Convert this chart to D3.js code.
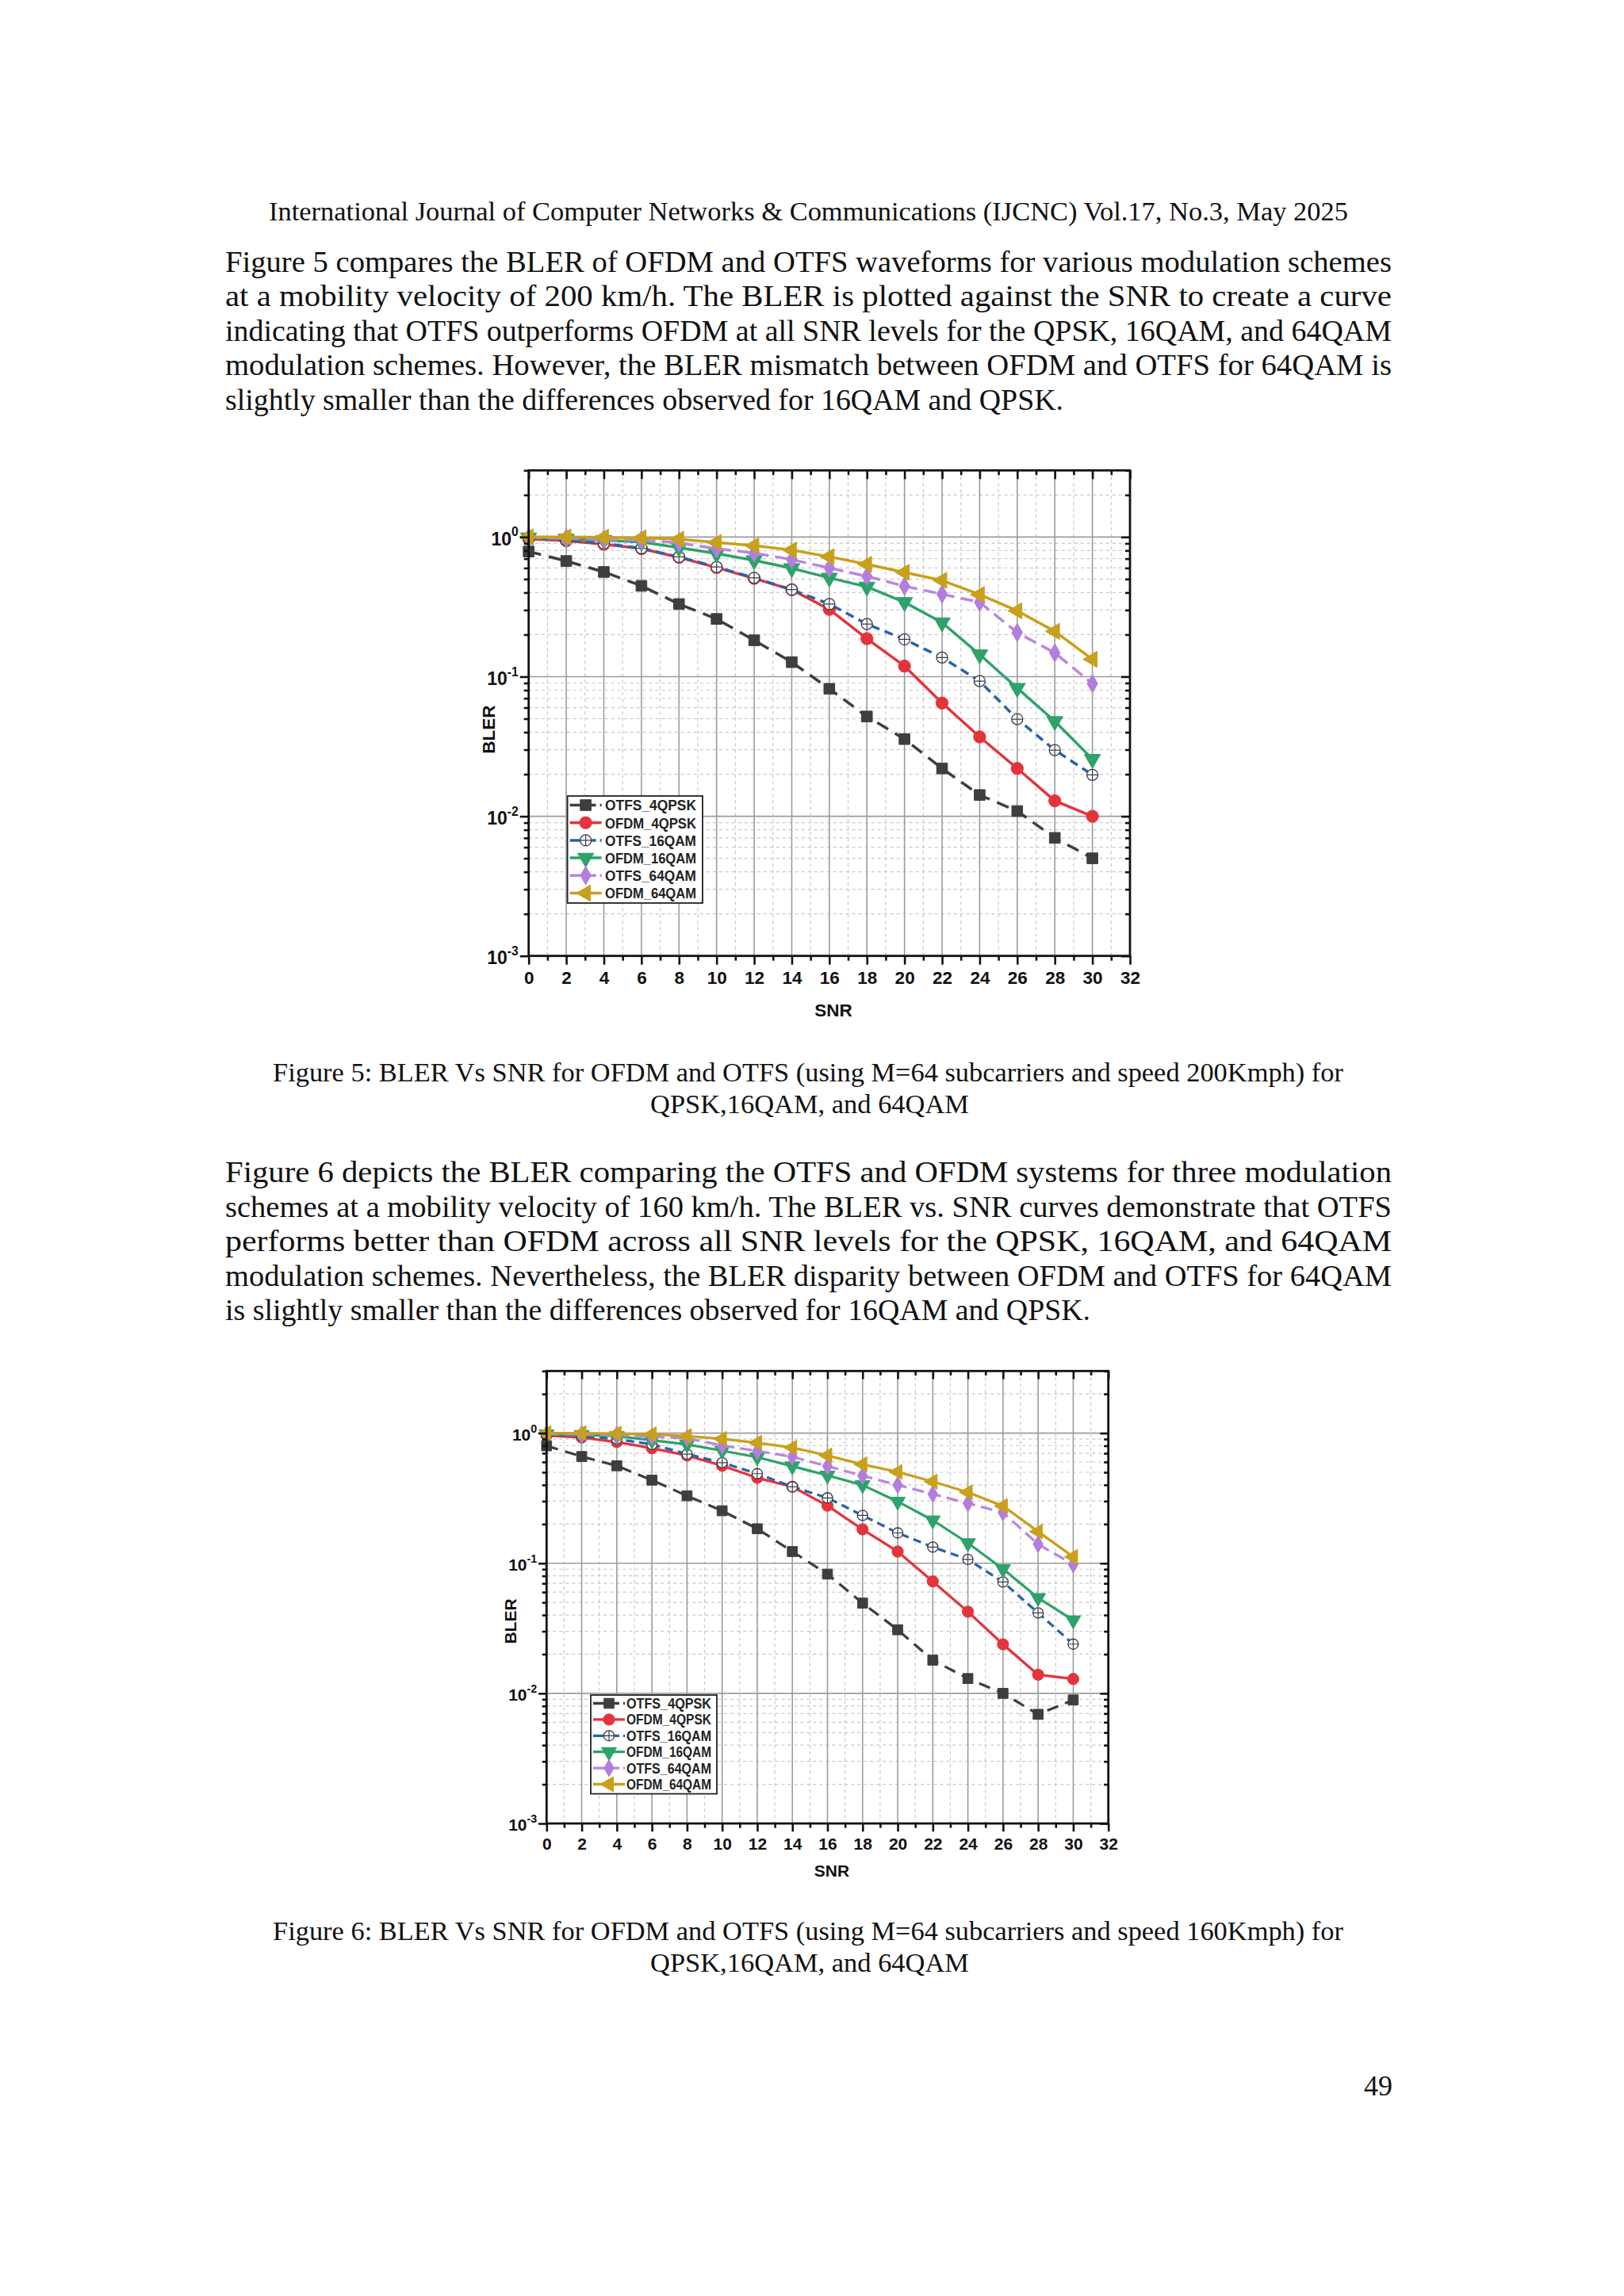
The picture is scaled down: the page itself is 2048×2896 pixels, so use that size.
<!DOCTYPE html>
<html>
<head>
<meta charset="utf-8">
<script src="https://cdn.jsdelivr.net/npm/d3@7"></script>
<style>
  body { margin: 0; background: #fff; }
</style>
</head>
<body>
<div id="page"></div>
<script>
// ---- data ----
const snr = [0, 2, 4, 6, 8, 10, 12, 14, 16, 18, 20, 22, 24, 26, 28, 30];
const seriesNames = ["OTFS_4QPSK", "OFDM_4QPSK", "OTFS_16QAM", "OFDM_16QAM", "OTFS_64QAM", "OFDM_64QAM"];
const xTicks = [0, 2, 4, 6, 8, 10, 12, 14, 16, 18, 20, 22, 24, 26, 28, 30, 32];
const yTicks = [1, 0.1, 0.01, 0.001];
const yTickExp = ["0", "-1", "-2", "-3"];

// Figure 5 (200 km/h)
const fig5_otfs_qpsk = [0.787, 0.673, 0.562, 0.447, 0.331, 0.259, 0.182, 0.127, 0.0818, 0.0518, 0.0357, 0.0220, 0.0142, 0.0109, 0.0070, 0.0050];
const fig5_ofdm_qpsk = [0.97, 0.94, 0.887, 0.825, 0.715, 0.604, 0.505, 0.419, 0.303, 0.187, 0.119, 0.0647, 0.0370, 0.0220, 0.0129, 0.0100];
const fig5_otfs_16qam = [0.98, 0.95, 0.90, 0.83, 0.72, 0.61, 0.51, 0.42, 0.331, 0.238, 0.185, 0.137, 0.0929, 0.0496, 0.0298, 0.0198];
const fig5_ofdm_16qam = [0.99, 0.97, 0.95, 0.92, 0.84, 0.76, 0.68, 0.597, 0.51, 0.44, 0.341, 0.244, 0.144, 0.0828, 0.0479, 0.0257];
const fig5_otfs_64qam = [0.99, 0.98, 0.965, 0.95, 0.91, 0.825, 0.768, 0.689, 0.600, 0.523, 0.445, 0.390, 0.341, 0.207, 0.148, 0.0891];
const fig5_ofdm_64qam = [1.0, 1.0, 0.995, 0.985, 0.965, 0.914, 0.866, 0.806, 0.723, 0.637, 0.558, 0.489, 0.387, 0.296, 0.211, 0.133];

// Figure 6 (160 km/h)
const fig6_otfs_qpsk = [0.798, 0.661, 0.561, 0.435, 0.330, 0.253, 0.184, 0.123, 0.0825, 0.0494, 0.0308, 0.0180, 0.0130, 0.0100, 0.0069, 0.0089];
const fig6_ofdm_qpsk = [0.958, 0.924, 0.854, 0.765, 0.673, 0.561, 0.453, 0.387, 0.277, 0.182, 0.123, 0.0725, 0.0424, 0.0238, 0.0139, 0.0129];
const fig6_otfs_16qam = [0.97, 0.95, 0.90, 0.82, 0.69, 0.593, 0.488, 0.387, 0.318, 0.233, 0.171, 0.133, 0.107, 0.0718, 0.0415, 0.0239];
const fig6_ofdm_16qam = [0.98, 0.97, 0.95, 0.88, 0.818, 0.733, 0.653, 0.557, 0.473, 0.399, 0.298, 0.214, 0.143, 0.0903, 0.0542, 0.0365];
const fig6_otfs_64qam = [0.99, 0.98, 0.97, 0.94, 0.913, 0.803, 0.729, 0.657, 0.557, 0.470, 0.399, 0.340, 0.289, 0.245, 0.140, 0.098];
const fig6_ofdm_64qam = [1.0, 1.0, 0.99, 0.98, 0.947, 0.902, 0.843, 0.774, 0.673, 0.575, 0.503, 0.424, 0.351, 0.275, 0.175, 0.112];

// ---- page text ----
const headerText = "International Journal of Computer Networks & Communications (IJCNC) Vol.17, No.3, May 2025";
const para1 = [
  "Figure 5 compares the BLER of OFDM and OTFS waveforms for various modulation schemes",
  "at a mobility velocity of 200 km/h. The BLER is plotted against the SNR to create a curve",
  "indicating that OTFS outperforms OFDM at all SNR levels for the QPSK, 16QAM, and 64QAM",
  "modulation schemes. However, the BLER mismatch between OFDM and OTFS for 64QAM is",
  "slightly smaller than the differences observed for 16QAM and QPSK."
];
const caption5 = [
  "Figure 5: BLER Vs SNR for OFDM and OTFS (using M=64 subcarriers and speed 200Kmph) for",
  "QPSK,16QAM, and 64QAM"
];
const para2 = [
  "Figure 6 depicts the BLER comparing the OTFS and OFDM systems for three modulation",
  "schemes at a mobility velocity of 160 km/h. The BLER vs. SNR curves demonstrate that OTFS",
  "performs better than OFDM across all SNR levels for the QPSK, 16QAM, and 64QAM",
  "modulation schemes. Nevertheless, the BLER disparity between OFDM and OTFS for 64QAM",
  "is slightly smaller than the differences observed for 16QAM and QPSK."
];
const caption6 = [
  "Figure 6: BLER Vs SNR for OFDM and OTFS (using M=64 subcarriers and speed 160Kmph) for",
  "QPSK,16QAM, and 64QAM"
];
const pageNumber = "49";

const W = 2048, H = 2896;
const serif = "'Liberation Serif','Times New Roman',Times,serif";
const sans = "'Liberation Sans',Arial,Helvetica,sans-serif";

const svg = d3.select("#page").append("svg")
  .attr("width", W).attr("height", H)
  .style("display", "block");
svg.append("rect").attr("width", W).attr("height", H).attr("fill", "#fff");

// line of text stretched to the width it has in the scan
function textLine(str, x, y, len, size) {
  return svg.append("text")
    .attr("x", x).attr("y", y)
    .attr("font-family", serif)
    .attr("font-size", size || 37)
    .attr("textLength", len)
    .attr("lengthAdjust", "spacingAndGlyphs")
    .attr("fill", "#111")
    .text(str);
}

textLine(headerText, 339, 278, 1361, 34);

const bodyLeft = 284, bodyWidth = 1471;
para1.forEach((l, i) => textLine(l, bodyLeft, 343 + i * 43.4, i < 4 ? bodyWidth : 1057));
caption5.forEach((l, i) => textLine(l, i ? 820 : 344, 1364 + i * 39.5, i ? 402 : 1350, 34));
para2.forEach((l, i) => textLine(l, bodyLeft, 1491 + i * 43.5, i < 4 ? bodyWidth : 1091));
caption6.forEach((l, i) => textLine(l, i ? 820 : 344, 2447 + i * 40, i ? 402 : 1350, 34));
svg.append("text").attr("x", 1756).attr("y", 2643).attr("text-anchor", "end")
  .attr("font-family", serif).attr("font-size", 36).attr("fill", "#111").text(pageNumber);

// ---- series styles ----
const styles = {
  OTFS_4QPSK: { color: "#3e3e3e", dash: "16,10", sym: "square", fill: "#3e3e3e", stroke: "#3e3e3e" },
  OFDM_4QPSK: { color: "#e3343c", dash: null, sym: "circle", fill: "#e3343c", stroke: "#e3343c" },
  OTFS_16QAM: { color: "#2863ab", dash: "11,7", sym: "circleplus", fill: "#ffffff", stroke: "#3a3a4a" },
  OFDM_16QAM: { color: "#2ea26a", dash: null, sym: "tridown", fill: "#2ea26a", stroke: "#2ea26a" },
  OTFS_64QAM: { color: "#bb86e2", dash: "16,8", sym: "diamond", fill: "#b37ddd", stroke: "#b37ddd" },
  OFDM_64QAM: { color: "#c9a01c", dash: null, sym: "trileft", fill: "#c9a01c", stroke: "#c9a01c" }
};

function drawMarker(g, name, cx, cy, k) {
  const s = styles[name];
  const m = g.append("g").attr("transform", `translate(${cx},${cy})`);
  if (s.sym === "circleplus") {
    const r = 7 * k;
    m.append("circle").attr("r", r).attr("fill", s.fill).attr("stroke", s.stroke).attr("stroke-width", 1.3);
    m.append("path").attr("d", `M${-r},0H${r}M0,${-r}V${r}`).attr("stroke", s.stroke).attr("stroke-width", 1.2);
    return;
  }
  let type = d3.symbolSquare, area = 185, rot = 0;
  if (s.sym === "circle") { type = d3.symbolCircle; area = 185; }
  if (s.sym === "tridown") { type = d3.symbolTriangle; area = 180; rot = 180; }
  if (s.sym === "trileft") { type = d3.symbolTriangle; area = 180; rot = -90; }
  if (s.sym === "diamond") { type = d3.symbolDiamond; area = 155; }
  m.append("path")
    .attr("d", d3.symbol().type(type).size(area * k * k)())
    .attr("transform", `rotate(${rot})`)
    .attr("fill", s.fill).attr("stroke", s.stroke).attr("stroke-width", 1);
}

function drawChart(cfg, series) {
  const x = d3.scaleLinear().domain([0, 32]).range([cfg.x0, cfg.x1]);
  const y = d3.scaleLog().domain([0.001, 3]).range([cfg.yBot, cfg.yTop]);
  const g = svg.append("g");
  const k = cfg.k;

  // minor values
  const xMinor = d3.range(1, 32, 2);
  const yMinor = [];
  [0.001, 0.01, 0.1, 1].forEach(d => { for (let m = 2; m <= 9; m++) { if (d * m <= 3) yMinor.push(d * m); } });

  // grid
  const grid = g.append("g");
  grid.selectAll(".vmin").data(xMinor).join("line")
    .attr("x1", d => x(d)).attr("x2", d => x(d)).attr("y1", cfg.yTop).attr("y2", cfg.yBot)
    .attr("stroke", "#c8c8c8").attr("stroke-width", 1.2).attr("stroke-dasharray", "4,4");
  grid.selectAll(".hmin").data(yMinor).join("line")
    .attr("y1", d => y(d)).attr("y2", d => y(d)).attr("x1", cfg.x0).attr("x2", cfg.x1)
    .attr("stroke", "#c8c8c8").attr("stroke-width", 1.2).attr("stroke-dasharray", "4,4");
  grid.selectAll(".vmaj").data(xTicks.slice(1, -1)).join("line")
    .attr("x1", d => x(d)).attr("x2", d => x(d)).attr("y1", cfg.yTop).attr("y2", cfg.yBot)
    .attr("stroke", "#9c9c9c").attr("stroke-width", 1.6);
  grid.selectAll(".hmaj").data(yTicks.slice(0, 3)).join("line")
    .attr("y1", d => y(d)).attr("y2", d => y(d)).attr("x1", cfg.x0).attr("x2", cfg.x1)
    .attr("stroke", "#9c9c9c").attr("stroke-width", 1.6);

  // curves
  const line = d3.line().x(d => x(d[0])).y(d => y(d[1]));
  seriesNames.forEach((name, i) => {
    const s = styles[name];
    const pts = snr.map((v, j) => [v, series[i][j]]);
    g.append("path").datum(pts)
      .attr("d", line).attr("fill", "none")
      .attr("stroke", s.color).attr("stroke-width", 3.5 * k)
      .attr("stroke-dasharray", s.dash ? s.dash.split(",").map(v => v * k).join(",") : null)
      .attr("stroke-linejoin", "round");
    pts.forEach(p => drawMarker(g, name, x(p[0]), y(p[1]), k));
  });

  // axes
  const axStyle = sel => {
    sel.select(".domain").remove();
    sel.selectAll(".tick line").attr("stroke", "#111").attr("stroke-width", 2.6);
  };
  const major = 11 * k, minor = 6 * k;
  const bottom = g.append("g").attr("transform", `translate(0,${cfg.yBot})`)
    .call(d3.axisBottom(x).tickValues(xTicks).tickSize(major).tickPadding(8 * k).tickFormat(d3.format("d")));
  axStyle(bottom);
  bottom.selectAll("text").attr("font-family", sans).attr("font-weight", "bold")
    .attr("font-size", cfg.tickFont).attr("fill", "#111").attr("dy", "0.71em");
  g.append("g").attr("transform", `translate(0,${cfg.yBot})`)
    .call(d3.axisBottom(x).tickValues(xMinor).tickSize(minor).tickFormat("")).call(axStyle);
  g.append("g").attr("transform", `translate(0,${cfg.yTop})`)
    .call(d3.axisBottom(x).tickValues(xTicks).tickSize(major).tickFormat("")).call(axStyle);
  g.append("g").attr("transform", `translate(0,${cfg.yTop})`)
    .call(d3.axisBottom(x).tickValues(xMinor).tickSize(minor).tickFormat("")).call(axStyle);

  const left = g.append("g").attr("transform", `translate(${cfg.x0},0)`)
    .call(d3.axisLeft(y).tickValues(yTicks).tickSize(major).tickFormat(""));
  axStyle(left);
  left.selectAll(".tick").each(function (d, i) {
    const t = d3.select(this).append("text")
      .attr("x", -(major + 2 * k)).attr("y", 0).attr("dy", "0.42em")
      .attr("text-anchor", "end")
      .attr("font-family", sans).attr("font-weight", "bold").attr("fill", "#111")
      .attr("font-size", cfg.yFont);
    t.append("tspan").text("10");
    t.append("tspan").attr("font-size", cfg.yFont * 0.68).attr("dy", -cfg.yFont * 0.48).text(yTickExp[i]);
  });
  g.append("g").attr("transform", `translate(${cfg.x0},0)`)
    .call(d3.axisLeft(y).tickValues(yMinor).tickSize(minor).tickFormat("")).call(axStyle);
  g.append("g").attr("transform", `translate(${cfg.x1},0)`)
    .call(d3.axisLeft(y).tickValues(yTicks).tickSize(major).tickFormat("")).call(axStyle);
  g.append("g").attr("transform", `translate(${cfg.x1},0)`)
    .call(d3.axisLeft(y).tickValues(yMinor).tickSize(minor).tickFormat("")).call(axStyle);

  // frame
  g.append("rect")
    .attr("x", cfg.x0).attr("y", cfg.yTop)
    .attr("width", cfg.x1 - cfg.x0).attr("height", cfg.yBot - cfg.yTop)
    .attr("fill", "none").attr("stroke", "#111").attr("stroke-width", 2.8);

  // axis titles
  g.append("text").attr("x", cfg.snrX).attr("y", cfg.snrY).attr("text-anchor", "middle")
    .attr("font-family", sans).attr("font-weight", "bold").attr("font-size", cfg.titleFont)
    .attr("fill", "#111").text("SNR");
  g.append("text")
    .attr("transform", `translate(${cfg.blerX},${cfg.blerY}) rotate(-90)`)
    .attr("text-anchor", "middle").attr("dy", "0.36em")
    .attr("font-family", sans).attr("font-weight", "bold").attr("font-size", cfg.titleFont)
    .attr("fill", "#111").text("BLER");

  // legend
  const L = cfg.legend;
  const lg = g.append("g");
  lg.append("rect").attr("x", L.x).attr("y", L.y).attr("width", L.w).attr("height", L.h)
    .attr("fill", "#fff").attr("stroke", "#222").attr("stroke-width", 1.8);
  seriesNames.forEach((name, i) => {
    const s = styles[name];
    const ry = L.row0 + i * L.dy;
    lg.append("line").attr("x1", L.x + 3).attr("x2", L.x + 3 + L.sw).attr("y1", ry).attr("y2", ry)
      .attr("stroke", s.color).attr("stroke-width", 3.5 * k)
      .attr("stroke-dasharray", s.dash ? "14,5" : null);
    drawMarker(lg, name, L.x + 3 + L.sw / 2, ry, k);
    lg.append("text").attr("x", L.tx).attr("y", ry).attr("dy", "0.36em")
      .attr("font-family", sans).attr("font-weight", "bold").attr("font-size", L.font)
      .attr("textLength", L.tl).attr("lengthAdjust", "spacingAndGlyphs")
      .attr("fill", "#222").text(name);
  });
}

drawChart({
  x0: 666.7, x1: 1425, yTop: 593.3, yBot: 1205.7, k: 1,
  tickFont: 22.5, yFont: 23, titleFont: 22.5,
  snrX: 1051, snrY: 1282, blerX: 616, blerY: 920,
  legend: { x: 715.6, y: 1004, w: 170.4, h: 135, row0: 1015.5, dy: 22.2, sw: 40, tx: 763, font: 19, tl: 115 }
}, [fig5_otfs_qpsk, fig5_ofdm_qpsk, fig5_otfs_16qam, fig5_ofdm_16qam, fig5_otfs_64qam, fig5_ofdm_64qam]);

drawChart({
  x0: 689.3, x1: 1397.7, yTop: 1729.3, yBot: 2300, k: 0.93,
  tickFont: 21, yFont: 21, titleFont: 21,
  snrX: 1049, snrY: 2367, blerX: 643, blerY: 2045,
  legend: { x: 745, y: 2138, w: 159, h: 124.6, row0: 2148.5, dy: 20.4, sw: 40, tx: 790, font: 18, tl: 107 }
}, [fig6_otfs_qpsk, fig6_ofdm_qpsk, fig6_otfs_16qam, fig6_ofdm_16qam, fig6_otfs_64qam, fig6_ofdm_64qam]);
</script>
</body>
</html>
